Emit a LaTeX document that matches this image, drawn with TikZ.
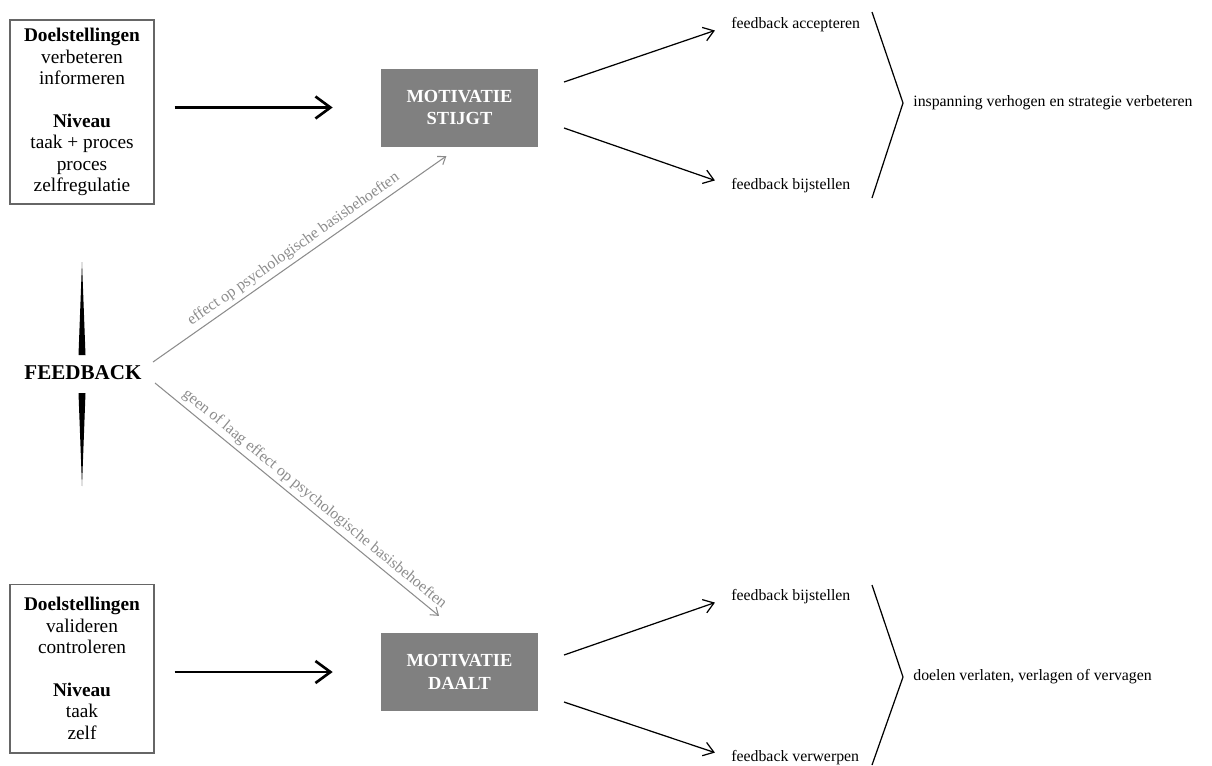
\documentclass[tikz,border=0pt]{standalone}
\usepackage{fontspec}
\setmainfont{Liberation Serif}
\usepackage{tikz}
\usetikzlibrary{arrows.meta}
\definecolor{motgray}{RGB}{128,128,128}
\definecolor{labgray}{RGB}{140,140,140}

\begin{document}
\begin{tikzpicture}[x=0.02cm,y=-0.02cm]
	\tikzstyle{every node}=[inner sep=0pt,align=center];
	\tikzstyle{doelbox}=[draw=black!60,line width=0.6pt,minimum width=2.88cm,minimum height=3.68cm,font=\fontsize{11}{12.2}\selectfont];
	\tikzstyle{motbox}=[fill=motgray,text=white,minimum width=3.14cm,minimum height=1.56cm,font=\fontsize{10.5}{13}\selectfont\bfseries];
	\tikzstyle{uitkomst}=[anchor=west,font=\fontsize{9}{10}\selectfont];
	\tikzstyle{dikpijl}=[line width=1.5pt,-{Straight Barb[length=0.3cm,width=0.44cm]},shorten <=0.4cm,shorten >=0.96cm];
	\tikzstyle{pijl}=[line width=0.7pt,-{Straight Barb[length=0.2cm,width=0.28cm]},shorten >=0.34cm];
	\tikzstyle{grijspijl}=[draw=labgray,line width=0.6pt,-{Straight Barb[length=0.14cm,width=0.2cm]}];
	\useasboundingbox (0,0) rectangle (1212,765);
	\node[doelbox] (d1) at (82,112) {\textbf{Doelstellingen}\\verbeteren\\informeren\\[12.2pt]\textbf{Niveau}\\taak + proces\\proces\\zelfregulatie};
	\node[doelbox,minimum height=3.38cm] (d2) at (82,668.5) {\textbf{Doelstellingen}\\valideren\\controleren\\[12.2pt]\textbf{Niveau}\\taak\\zelf};
	\node[motbox] (m1) at (459.5,107.5) {MOTIVATIE\\STIJGT};
	\node[motbox] (m2) at (459.5,672) {MOTIVATIE\\DAALT};
	\node[font=\fontsize{12}{14}\selectfont\bfseries] (f) at (83,373) {FEEDBACK};
	\node[uitkomst] (a1) at (731,25) {feedback accepteren};
	\node[uitkomst] (a2) at (731,186) {feedback bijstellen};
	\node[uitkomst] (i1) at (913,103) {inspanning verhogen en strategie verbeteren};
	\node[uitkomst] (a3) at (731,597) {feedback bijstellen};
	\node[uitkomst] (a4) at (731,758) {feedback verwerpen};
	\node[uitkomst] (i2) at (913,677) {doelen verlaten, verlagen of vervagen};
	\coordinate (c1) at (564,82);
	\coordinate (c2) at (564,128);
	\coordinate (c3) at (564,655);
	\coordinate (c4) at (564,702);
	\coordinate (e1) at (153,362);
	\coordinate (e2) at (155,383);
	\fill (82,262) -- (85.5,355) -- (78.5,355) -- cycle
	(78.5,393) -- (85.5,393) -- (82,486) -- cycle;
	\draw[dikpijl] (d1.east |- m1.west) -- (m1.west);
	\draw[dikpijl] (d2.east |- m2.west) -- (m2.west);
	\draw[grijspijl,shorten >=0.32cm] (e1) -- node[sloped,above=2pt,pos=0.48,text=labgray,font=\fontsize{9}{10}\selectfont] {effect op psychologische basisbehoeften} (m1.south);
	\draw[grijspijl,shorten >=0.53cm] (e2) -- node[sloped,above=2pt,pos=0.5,text=labgray,font=\fontsize{9}{10}\selectfont] {geen of laag effect op psychologische basisbehoeften} (m2.north);
	\draw[pijl] (c1) -- (a1.west);
	\draw[pijl] (c2) -- (a2.west);
	\draw[pijl] (c3) -- (a3.west);
	\draw[pijl] (c4) -- (a4.west);
	\draw[line width=0.7pt] (872,12) -- (903,103) -- (872,198)
	(872,585) -- (903,677) -- (872,765);
\end{tikzpicture}
\end{document}
